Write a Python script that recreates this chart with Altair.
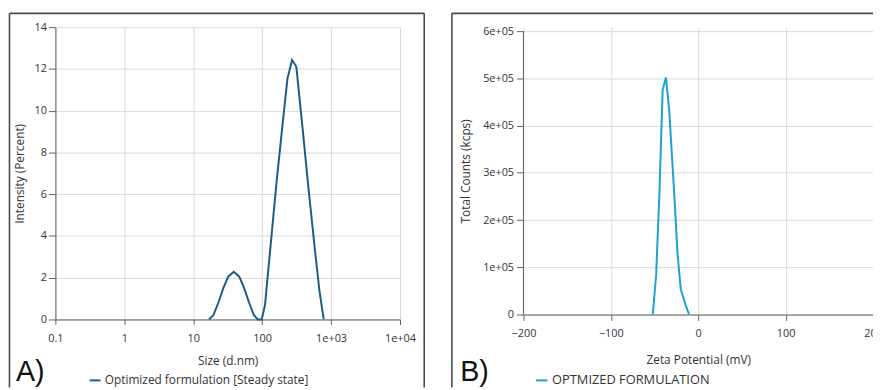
import altair as alt
import pandas as pd

# ---------------- data ----------------
size_nm = [16.9, 19.6, 23.1, 27.3, 32.2, 38.7, 46.5, 54.8, 64.7, 75.9, 86.5,
           98.6, 110, 133, 162, 197, 233, 272, 313, 382, 466, 567, 676, 781]
intensity_pct = [0, 0.2, 0.8, 1.5, 2.05, 2.28, 2.05, 1.5, 0.8, 0.2, 0,
                 0, 0.7, 3.6, 6.6, 9.3, 11.55, 12.43, 12.1, 9.3, 6.4, 3.7, 1.4, 0]

zeta_mv = [-52, -48.2, -44.4, -40.7, -36.9, -33.1, -27.5, -23.7, -20.0, -14.4, -10.5]
total_counts = [0, 82000, 257000, 476000, 502000, 430000, 257000, 130000, 54000, 20000, 0]

size_ticks = [0.1, 1, 10, 100, 1000, 10000]
size_tick_labels = ["0.1", "1", "10", "100", "1e+03", "1e+04"]
intensity_ticks = [0, 2, 4, 6, 8, 10, 12, 14]
zeta_ticks = [-200, -100, 0, 100, 200]
count_ticks = [0, 100000, 200000, 300000, 400000, 500000, 600000]
count_tick_labels = ["0", "1e+05", "2e+05", "3e+05", "4e+05", "5e+05", "6e+05"]

legend_a = "Optimized formulation [Steady state]"
legend_b = "OPTMIZED FORMULATION"

# ---------------- style ----------------
FONT = "Open Sans"
BORDER = "#4a4a4a"
AXIS = "#606060"
GRID = "#d8d8d8"
TXT = "#333333"
COL_A = "#1d5b88"
COL_B = "#1ea0d6"

df_a = pd.DataFrame({"size": size_nm, "intensity": intensity_pct})
df_b = pd.DataFrame({"zeta": zeta_mv, "counts": total_counts})
one = pd.DataFrame({"k": [0]})


def label_expr(vals, labels):
    parts = [f"datum.value == {v} ? '{l}'" for v, l in zip(vals, labels)]
    return " : ".join(parts) + " : datum.label"


def vrule(x, y1, y2, color=BORDER, w=1.6):
    return alt.Chart(one).mark_rule(color=color, strokeWidth=w).encode(
        x=alt.value(x), y=alt.value(y1), y2=alt.value(y2))


def hrule(x1, x2, y, color=BORDER, w=1.6):
    return alt.Chart(one).mark_rule(color=color, strokeWidth=w).encode(
        x=alt.value(x1), x2=alt.value(x2), y=alt.value(y))


def label(x, y, txt, size=12, font=FONT, color=TXT, baseline="middle"):
    return alt.Chart(one).mark_text(align="left", baseline=baseline, fontSize=size,
                                    font=font, color=color).encode(
        x=alt.value(x), y=alt.value(y), text=alt.value(txt))


BOTTOM = 365      # bottom end of the frame lines (relative to plot top)
TAG_Y = 358.2     # baseline of "A)" / "B)"
LEG_Y = 357.7     # legend row

# ---------------- panel A ----------------
W_A, H_A = 349, 296
line_a = alt.Chart(df_a).mark_line(color=COL_A, strokeWidth=2).encode(
    x=alt.X("size:Q",
            scale=alt.Scale(type="log", domain=[0.1, 10000], nice=False),
            axis=alt.Axis(values=size_ticks, labelExpr=label_expr(size_ticks, size_tick_labels),
                          title="Size (d.nm)", tickSize=5, labelPadding=8, labelFlush=False,
                          titleY=42, titleBaseline="middle")),
    y=alt.Y("intensity:Q",
            scale=alt.Scale(domain=[0, 14], nice=False),
            axis=alt.Axis(values=intensity_ticks, title="Intensity (Percent)",
                          tickSize=7, labelPadding=2, titleX=-36, titleBaseline="middle")),
)
panel_a = alt.layer(
    line_a,
    vrule(-46.5, -14, BOTTOM),
    hrule(-46.5, 373.5, -14),
    vrule(373.5, -14, BOTTOM),
    label(-40, TAG_Y, "A)", size=29, font="Liberation Sans", color="#111111", baseline="alphabetic"),
    hrule(34.7, 45.7, LEG_Y, color=COL_A, w=2),
    label(50, LEG_Y, legend_a, size=12),
).properties(width=W_A, height=H_A)

# ---------------- panel B ----------------
# plot area top is shared with panel A; the 6e+05 line sits 4 px lower
W_B, H_B = 354, 291
Y_TOP_B = 608362
line_b = alt.Chart(df_b).mark_line(color=COL_B, strokeWidth=2).encode(
    x=alt.X("zeta:Q",
            scale=alt.Scale(domain=[-200, 200], nice=False),
            axis=alt.Axis(values=zeta_ticks, title="Zeta Potential (mV)", tickSize=6,
                          labelPadding=7, labelFlush=False, titleY=46, titleBaseline="middle")),
    y=alt.Y("counts:Q",
            scale=alt.Scale(domain=[0, Y_TOP_B], nice=False),
            axis=alt.Axis(values=count_ticks, labelExpr=label_expr(count_ticks, count_tick_labels),
                          title="Total Counts (kcps)", tickSize=7, labelPadding=3, domain=False,
                          titleX=-59, titleBaseline="middle")),
)
panel_b = alt.layer(
    line_b,
    vrule(0, 4, H_B, color=AXIS, w=1),
    vrule(-72.5, -14, BOTTOM),
    hrule(-72.5, 362, -14),
    label(-64, TAG_Y, "B)", size=29, font="Liberation Sans", color="#111111", baseline="alphabetic"),
    hrule(12.7, 24.3, LEG_Y, color=COL_B, w=2),
    label(29, LEG_Y, legend_b, size=13),
).properties(width=W_B, height=H_B)

chart = alt.hconcat(panel_a, panel_b, spacing=25).properties(
    padding={"left": 0, "top": 2, "right": -10, "bottom": -1}
).configure_view(stroke=None).configure_axis(
    domainColor=AXIS, tickColor=AXIS, gridColor=GRID, gridWidth=1,
    labelFont=FONT, labelFontSize=11, labelColor=TXT,
    titleFont=FONT, titleFontSize=12, titleFontWeight="normal", titleColor=TXT,
)

chart.save("out.html", embed_options={"renderer": "svg", "actions": False})
